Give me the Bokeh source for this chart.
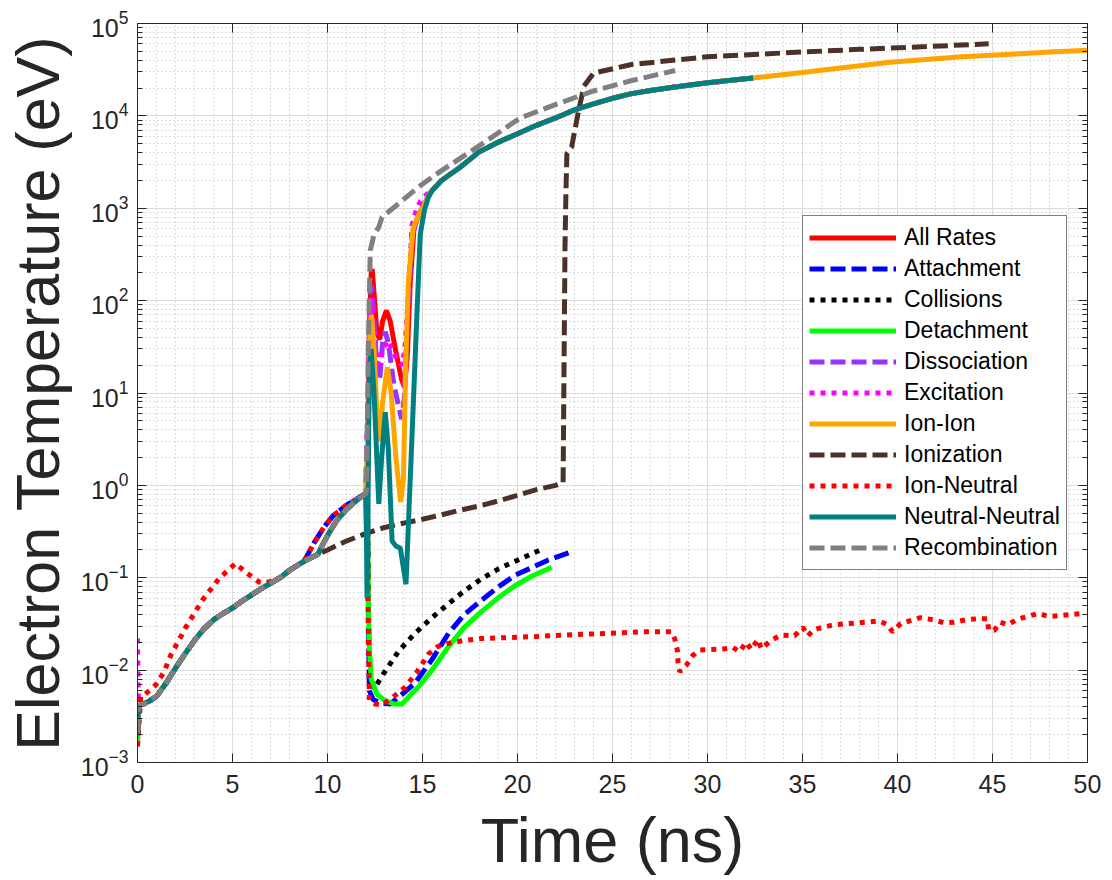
from bokeh.plotting import figure
from bokeh.models import (Range1d, LinearAxis, LogAxis, SingleIntervalTicker,
                          FixedTicker, CustomJSTickFormatter)
from bokeh.embed import file_html
from bokeh.resources import INLINE

# ---------------- data ----------------
# shared early rise (t in ns, T in eV)
t_base = [0.05, 0.3, 0.6, 1.0, 1.5, 2.0, 2.5, 3.0, 3.5, 4.0, 4.5, 5.0,
          5.5, 6.0, 6.5, 7.0, 7.5, 8.0, 8.5, 9.0]
T_base = [0.0041, 0.0043, 0.0046, 0.0052, 0.0072, 0.0105, 0.015, 0.021,
          0.028, 0.035, 0.041, 0.047, 0.056, 0.065, 0.076, 0.087, 0.10,
          0.12, 0.14, 0.16]
# rise towards 12 ns (grey path)
t_rise_grey = [9.5, 9.8, 10.1, 10.5, 11.0, 11.5, 12.0]
T_rise_grey = [0.18, 0.24, 0.31, 0.42, 0.55, 0.68, 0.81]
# rise towards 12 ns (attachment path)
t_rise_blue = [8.8, 9.3, 9.8, 10.3, 11.0, 11.8, 12.1]
T_rise_blue = [0.155, 0.24, 0.35, 0.47, 0.61, 0.77, 0.83]
# shared high branch
t_main = [15.5, 16.0, 17.0, 18.0, 19.0, 20.0, 21.0, 22.0, 23.0, 24.0, 25.0,
          26.0, 27.0, 28.0, 29.0, 30.0, 31.0, 32.4]
T_main = [1550, 2000, 2800, 4100, 5200, 6400, 7900, 9500, 11600, 13500,
          15500, 17400, 18800, 20200, 21500, 22800, 24000, 25700]
t_main_ext = [33.0, 35.0, 37.0, 39.6, 42.0, 43.4, 46.0, 48.0, 50.0]
T_main_ext = [26500, 29500, 33000, 38000, 41500, 43600, 46500, 49000, 51300]

# series-specific parts
T0_all_rates = 0.0015
t_ar_spike = [12.1, 12.2, 12.3, 12.35, 12.45, 12.6, 12.75, 12.9, 13.1, 13.3,
              13.6, 13.9, 14.05, 14.2, 14.35, 14.55, 14.8, 15.1, 15.3]
T_ar_spike = [0.9, 50, 200, 220, 120, 45, 38, 60, 78, 60, 28, 14, 11.5, 25,
              150, 600, 850, 1100, 1350]

T0_attachment = 0.002
t_att_low = [12.15, 12.2, 12.4, 12.8, 13.3, 13.8, 14.6, 15.5, 16.37, 17.2,
             18.1, 19.0, 19.9, 20.8, 21.6, 22.8]
T_att_low = [0.06, 0.006, 0.0048, 0.0044, 0.0043, 0.0052, 0.0072, 0.013,
             0.025, 0.04, 0.057, 0.08, 0.107, 0.13, 0.155, 0.19]

T0_collisions = 0.002
t_col_low = [12.1, 12.15, 12.2, 12.35, 12.52, 13.0, 13.74, 14.6, 15.5, 16.4,
             17.2, 18.1, 19.0, 20.0, 21.2]
T_col_low = [0.83, 0.06, 0.01, 0.0065, 0.0066, 0.0095, 0.016, 0.025, 0.037,
             0.053, 0.072, 0.097, 0.125, 0.155, 0.2]

T0_detachment = 0.0017
t_det_low = [12.1, 12.15, 12.2, 12.3, 12.6, 13.0, 13.5, 13.92, 14.3, 14.79,
             15.5, 16.37, 17.2, 18.1, 19.0, 19.9, 20.8, 21.8]
T_det_low = [0.83, 0.06, 0.018, 0.008, 0.0055, 0.0047, 0.0043, 0.0043,
             0.0052, 0.0066, 0.010, 0.018, 0.029, 0.043, 0.061, 0.083, 0.105,
             0.13]

T0_dissociation = 0.002
t_dis_spike = [12.15, 12.25, 12.33, 12.45, 12.6, 12.75, 12.9, 13.04, 13.2,
               13.5, 13.9, 14.05, 14.2, 14.45, 14.8, 15.1, 15.3]
T_dis_spike = [10, 120, 145, 60, 18, 14, 35, 46, 35, 12, 5.2, 9, 60, 500,
               850, 1100, 1350]

T0_excitation = 0.022
t_exc_spike = [12.15, 12.25, 12.33, 12.45, 12.6, 12.75, 12.9, 13.15, 13.4,
               13.7, 13.95, 14.1, 14.25, 14.45, 14.7, 15.0, 15.3]
T_exc_spike = [10, 90, 110, 50, 22, 20, 30, 37, 30, 22, 20, 35, 110, 650,
               1000, 1300, 1450]

T0_ion_ion = 0.002
t_ii_spike = [12.15, 12.25, 12.32, 12.45, 12.6, 12.72, 12.9, 13.15, 13.35,
              13.6, 13.85, 14.0, 14.1, 14.25, 14.5, 14.8, 15.1, 15.3]
T_ii_spike = [5, 60, 70, 30, 6, 3, 8, 19, 10, 2, 0.66, 1.2, 15, 150, 600,
              850, 1100, 1350]

T0_ionization = 0.002
t_ion = [9.5, 10.0, 11.0, 12.0, 13.0, 14.0, 15.0, 16.0, 17.0, 18.0, 19.0,
         20.0, 21.0, 22.0, 22.4, 22.45, 22.5, 22.55, 22.6, 22.85, 23.2, 23.5,
         24.0, 26.0, 30.0, 34.0, 38.0, 41.5, 44.8]
T_ion = [0.18, 0.2, 0.25, 0.3, 0.35, 0.39, 0.43, 0.48, 0.54, 0.6, 0.68, 0.78,
         0.9, 1.0, 1.07, 20, 380, 1500, 3900, 4600, 11000, 21000, 29000,
         36000, 43600, 48000, 52500, 56200, 60300]

t_in_early = [0.0, 0.17, 0.36, 0.96, 1.4, 1.75, 2.54, 3.41, 4.29, 5.16,
              5.69, 6.39, 6.7, 7.2, 7.5, 8.0, 8.5]
T_in_early = [0.0015, 0.0051, 0.0054, 0.0069, 0.0096, 0.0145, 0.029, 0.057,
              0.098, 0.143, 0.115, 0.09, 0.088, 0.093, 0.10, 0.12, 0.14]
t_in_low = [12.13, 12.2, 12.5, 12.87, 13.4, 14.1, 14.7, 15.32, 15.8, 16.37,
            17.2, 18.1, 20.8, 22.5, 24.8, 26.52, 28.1, 28.27, 28.41, 28.45,
            28.54, 28.89, 29.24, 29.58, 30.9, 31.34, 31.69, 32.04, 32.3,
            32.65, 32.83, 33.35, 33.88, 34.58, 35.02, 35.28, 35.6, 36.67,
            37.9, 39.04, 39.48, 39.74, 40.17, 41.2, 41.9, 42.45, 42.98, 43.6,
            44.2, 44.73, 44.8, 45.1, 45.4, 45.8, 46.3, 47.4, 48.0, 49.1, 49.7]
T_in_low = [0.057, 0.0047, 0.0043, 0.0042, 0.005, 0.0066, 0.0095, 0.015,
            0.018, 0.0195, 0.021, 0.022, 0.023, 0.024, 0.025, 0.026, 0.026,
            0.022, 0.0165, 0.0123, 0.0096, 0.0113, 0.0145, 0.0165, 0.017,
            0.0176, 0.0158, 0.020, 0.0167, 0.0215, 0.017, 0.021, 0.024,
            0.0235, 0.029, 0.0235, 0.0276, 0.031, 0.0325, 0.034, 0.031,
            0.026, 0.032, 0.037, 0.035, 0.0325, 0.033, 0.035, 0.036, 0.036,
            0.027, 0.027, 0.033, 0.031, 0.0355, 0.041, 0.038, 0.04, 0.041]

T0_neutral = 0.002
t_nn_spike = [12.05, 12.08, 12.12, 12.2, 12.3, 12.45, 12.7, 12.85, 13.04,
              13.2, 13.4, 13.6, 13.83, 14.13, 14.5, 14.7, 14.88, 15.1, 15.3]
T_nn_spike = [0.3, 0.06, 0.3, 20, 30, 10, 0.63, 2, 6.2, 2.5, 0.25, 0.22,
              0.21, 0.085, 6.3, 66, 520, 950, 1300]

T0_recomb = 0.0021
t_rec_high = [12.05, 12.15, 12.25, 12.45, 12.69, 12.87, 13.74, 14.79, 16.02,
              17.6, 20.15, 22.1, 24.0, 25.97, 28.3]
T_rec_high = [0.85, 30, 350, 520, 620, 800, 1120, 1700, 2570, 4200, 9500,
              13500, 18600, 24000, 31000]

y_decades = [-3, -2, -1, 0, 1, 2, 3, 4, 5]

# ---------------- assemble series ----------------
series = [
    ("All Rates", "#ff0000", "solid",
     [0.0] + t_base + t_rise_grey + t_ar_spike + t_main,
     [T0_all_rates] + T_base + T_rise_grey + T_ar_spike + T_main),
    ("Attachment", "#0000ff", "dashed",
     [0.0] + t_base[:-1] + t_rise_blue + t_att_low,
     [T0_attachment] + T_base[:-1] + T_rise_blue + T_att_low),
    ("Collisions", "#000000", "dotted",
     [0.0] + t_base + t_rise_grey + t_col_low,
     [T0_collisions] + T_base + T_rise_grey + T_col_low),
    ("Detachment", "#00ff00", "solid",
     [0.0] + t_base + t_rise_grey + t_det_low,
     [T0_detachment] + T_base + T_rise_grey + T_det_low),
    ("Dissociation", "#9933ff", "dashed",
     [0.0] + t_base + t_rise_grey + t_dis_spike + t_main,
     [T0_dissociation] + T_base + T_rise_grey + T_dis_spike + T_main),
    ("Excitation", "#ff00ff", "dotted",
     [0.0] + t_base + t_rise_grey + t_exc_spike + t_main,
     [T0_excitation] + T_base + T_rise_grey + T_exc_spike + T_main),
    ("Ion-Ion", "#ffa500", "solid",
     [0.0] + t_base + t_rise_grey + t_ii_spike + t_main + t_main_ext,
     [T0_ion_ion] + T_base + T_rise_grey + T_ii_spike + T_main + T_main_ext),
    ("Ionization", "#4b3128", "dashed",
     [0.0] + t_base + t_ion,
     [T0_ionization] + T_base + T_ion),
    ("Ion-Neutral", "#ff0000", "dotted",
     t_in_early + t_rise_blue + t_in_low,
     T_in_early + T_rise_blue + T_in_low),
    ("Neutral-Neutral", "#008080", "solid",
     [0.0] + t_base + t_rise_grey + t_nn_spike + t_main,
     [T0_neutral] + T_base + T_rise_grey + T_nn_spike + T_main),
    ("Recombination", "#808080", "dashed",
     [0.0] + t_base + t_rise_grey + t_rec_high,
     [T0_recomb] + T_base + T_rise_grey + T_rec_high),
]

DASH = {"solid": "solid", "dashed": "15 6", "dotted": "5 6"}
FONT = "Liberation Sans"
AX = "#262626"

p = figure(width=1112, height=880, x_range=Range1d(0, 50),
           y_range=Range1d(1e-3, 1e5), y_axis_type="log",
           output_backend="svg", toolbar_location=None,
           min_border_left=135, min_border_right=25,
           min_border_top=23, min_border_bottom=118)
p.background_fill_color = "white"
p.border_fill_color = "white"
p.outline_line_color = AX
p.outline_line_width = 1

xticker = SingleIntervalTicker(interval=5, num_minor_ticks=5)
yticker = FixedTicker(ticks=[10.0 ** k for k in y_decades],
                      minor_ticks=[m * 10.0 ** k for k in y_decades[:-1]
                                   for m in range(2, 10)])

xa = p.xaxis[0]
xa.ticker = xticker
ya = p.yaxis[0]
ya.ticker = yticker
for ax in (xa, ya):
    ax.axis_line_color = AX
    ax.major_tick_line_color = AX
    ax.minor_tick_line_color = AX
    ax.major_tick_in = 9
    ax.major_tick_out = 0
    ax.minor_tick_in = 5
    ax.minor_tick_out = 0
    ax.major_label_text_font = FONT
    ax.major_label_text_font_size = "25px"
    ax.major_label_text_color = AX
    ax.axis_label_text_font = FONT
    ax.axis_label_text_font_style = "normal"
    ax.axis_label_text_color = AX
xa.axis_label_text_font_size = "63px"
ya.axis_label_text_font_size = "61px"
xa.minor_tick_line_color = None
xa.major_label_standoff = 12
xa.axis_label_standoff = 9
ya.major_label_standoff = 9
ya.axis_label_standoff = 6
xa.axis_label = "Time (ns)"
ya.axis_label = "Electron Temperature (eV)"

blank = CustomJSTickFormatter(code="return ''")
top = LinearAxis(ticker=xticker, formatter=blank)
right = LogAxis(ticker=yticker, formatter=blank)
for ax in (top, right):
    ax.axis_line_color = AX
    ax.major_tick_line_color = AX
    ax.minor_tick_line_color = AX
    ax.major_tick_in = 9
    ax.major_tick_out = 0
    ax.minor_tick_in = 5
    ax.minor_tick_out = 0
    ax.major_label_standoff = 0
    ax.major_label_text_font_size = "1px"
top.minor_tick_line_color = None
p.add_layout(top, "above")
p.add_layout(right, "right")

for g in (p.xgrid[0], p.ygrid[0]):
    g.grid_line_color = "#dcdcdc"
    g.grid_line_width = 1
    g.minor_grid_line_color = "#bdbdbd"
    g.minor_grid_line_dash = "1 3"
    g.minor_grid_line_width = 1

for name, color, style, ts, Ts in series:
    p.line(ts, Ts, line_color=color, line_width=5,
           line_dash=DASH[style], legend_label=name)

lg = p.legend[0]
lg.location = (665, 192)
lg.label_text_font = FONT
lg.label_text_font_size = "23px"
lg.label_text_color = "black"
lg.glyph_width = 87
lg.glyph_height = 31
lg.label_height = 31
lg.label_standoff = 8
lg.spacing = 0
lg.padding = 6
lg.margin = 0
lg.border_line_color = "black"
lg.border_line_width = 1
lg.background_fill_alpha = 1.0

open("out.html", "w").write(file_html(p, INLINE))
